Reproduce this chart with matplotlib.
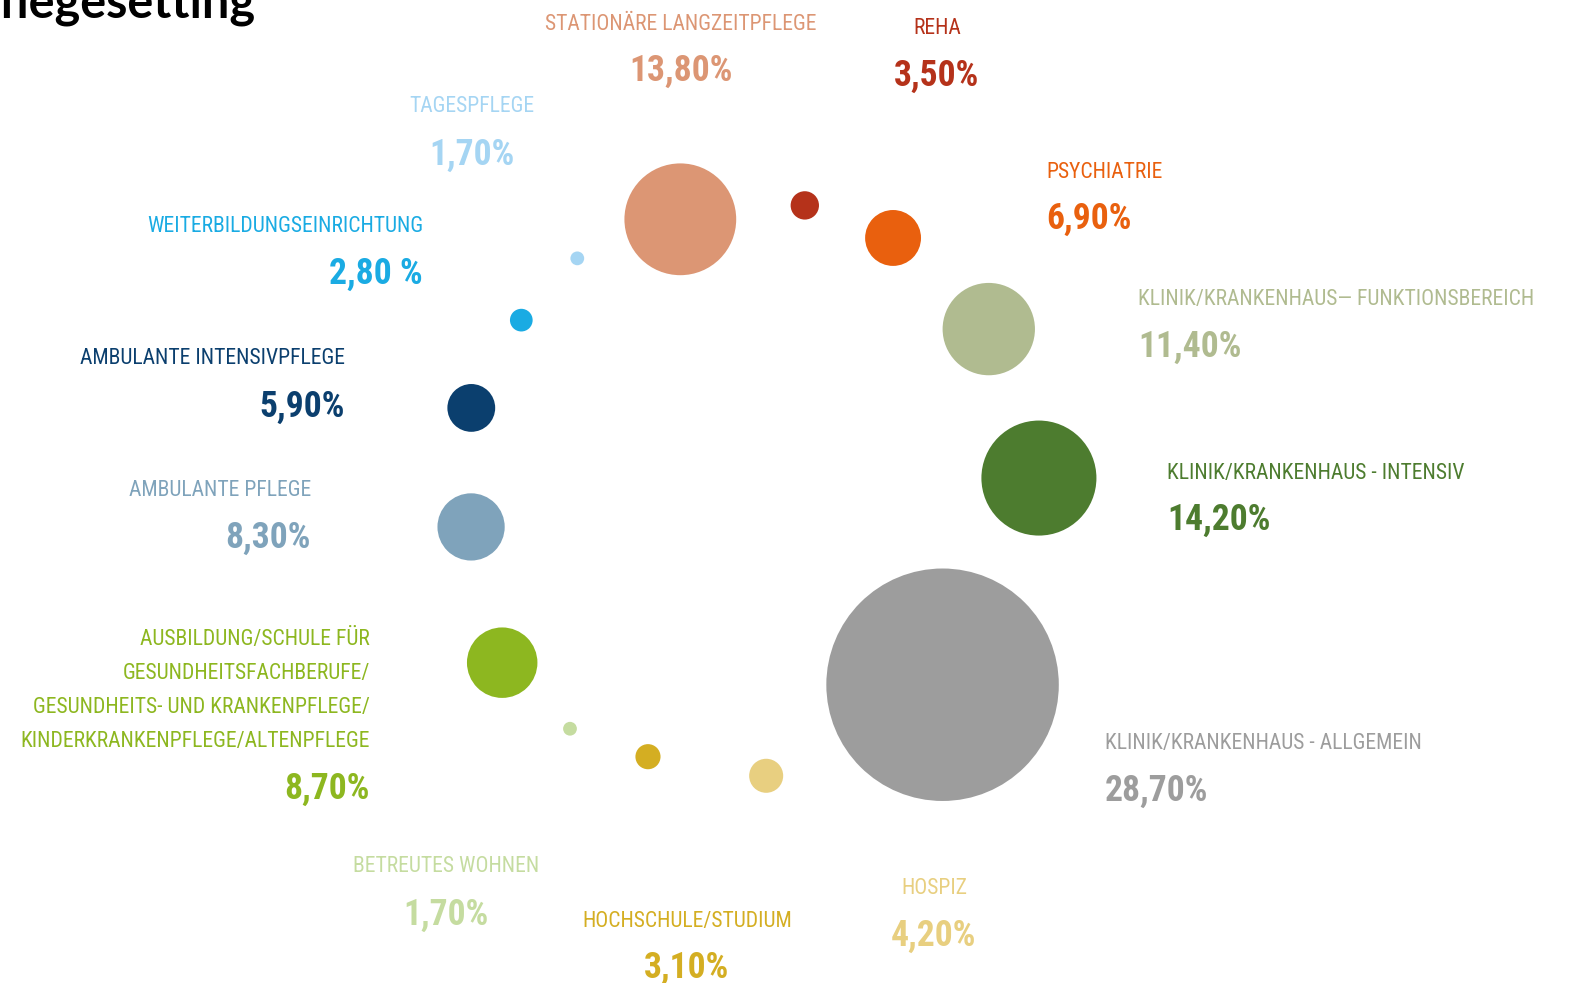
import numpy as np
import matplotlib.pyplot as plt
from matplotlib import font_manager as fm
from matplotlib.patches import Circle

# Anteile je Pflegesetting (%)
labels = [
    "STATIONÄRE LANGZEITPFLEGE",
    "REHA",
    "PSYCHIATRIE",
    "KLINIK/KRANKENHAUS— FUNKTIONSBEREICH",
    "KLINIK/KRANKENHAUS - INTENSIV",
    "KLINIK/KRANKENHAUS - ALLGEMEIN",
    "HOSPIZ",
    "HOCHSCHULE/STUDIUM",
    "BETREUTES WOHNEN",
    "AUSBILDUNG/SCHULE FÜR\nGESUNDHEITSFACHBERUFE/\nGESUNDHEITS- UND KRANKENPFLEGE/\nKINDERKRANKENPFLEGE/ALTENPFLEGE",
    "AMBULANTE PFLEGE",
    "AMBULANTE INTENSIVPFLEGE",
    "WEITERBILDUNGSEINRICHTUNG",
    "TAGESPFLEGE",
]
values = [13.8, 3.5, 6.9, 11.4, 14.2, 28.7, 4.2, 3.1, 1.7, 8.7, 8.3, 5.9, 2.8, 1.7]
value_text = ["13,80%", "3,50%", "6,90%", "11,40%", "14,20%", "28,70%", "4,20%",
              "3,10%", "1,70%", "8,70%", "8,30%", "5,90%", "2,80 %", "1,70%"]
colors = ["#dc9674", "#b5321a", "#e9600e", "#b0bb90", "#4d7c2f", "#9d9d9d", "#e8cf80",
          "#d4ae22", "#c5dca0", "#8db720", "#7fa3bb", "#0b3f6e", "#1aabe3", "#a5d5f3"]

# layout: bubbles sit on a loose ring (angle in degrees, distance in px)
ring_center = (755, 485)
angles = [105.7, 79.9, 60.8, 33.7, 1.4, -46.8, -87.8, -111.5, -127.2, -144.9,
          188.4, 164.8, 144.8, 128.1]
dists = [276, 284, 283, 281, 284, 274, 291, 292, 306, 309, 287, 294, 286, 288]
px_per_pct = 4.05

# label anchors: (x, y of first line, y of value, alignment)
label_pos = [
    (681, 21, 68, "center"),
    (937, 25, 73, "center"),
    (1046, 169, 216, "left"),
    (1138, 297, 344, "left"),
    (1167, 470, 517, "left"),
    (1105, 741, 788, "left"),
    (934, 886, 933, "center"),
    (687, 918, 965, "center"),
    (446, 864, 912, "center"),
    (370, 636, 786, "right"),
    (311, 487, 535, "right"),
    (345, 356, 404, "right"),
    (423, 224, 271, "right"),
    (472, 104, 152, "center"),
]
line_step = 34.3
y_nudge = 3  # va="center" sits a little high for caps

# pick a narrow face if there is one
names = {f.name for f in fm.fontManager.ttflist}
stretch = "normal"
family = "DejaVu Sans"
for cand in ["Roboto Condensed", "Liberation Sans Narrow", "Open Sans Condensed"]:
    if cand in names:
        family = cand
        break
else:
    if any("Condensed" in f.fname and f.name == "DejaVu Sans" for f in fm.fontManager.ttflist):
        stretch = "condensed"

fig = plt.figure(figsize=(15.7, 9.83), dpi=100)
ax = fig.add_axes([0, 0, 1, 1])
ax.set_xlim(0, 1570)
ax.set_ylim(983, 0)
ax.set_aspect("equal")
ax.axis("off")

# size the type so that widths match the original
renderer = fig.canvas.get_renderer()
def fit_size(s, target_px, **kw):
    t = ax.text(0, 0, s, fontsize=10, family=family, fontstretch=stretch, **kw)
    w = t.get_window_extent(renderer).width
    t.remove()
    return 10 * target_px / w

lab_size = fit_size("STATIONÄRE LANGZEITPFLEGE", 272)
num_size = fit_size("13,80%", 104, fontweight="bold")

for val, col, ang, d in zip(values, colors, angles, dists):
    a = np.deg2rad(ang)
    cx = ring_center[0] + d * np.cos(a)
    cy = ring_center[1] - d * np.sin(a)
    ax.add_patch(Circle((cx, cy), val * px_per_pct, color=col, lw=0))

for lab, vt, col, (x, y, yv, ha) in zip(labels, value_text, colors, label_pos):
    for i, line in enumerate(lab.split("\n")):
        ax.text(x, y + i * line_step + y_nudge, line, color=col, ha=ha, va="center",
                family=family, fontstretch=stretch, fontsize=lab_size)
    ax.text(x, yv + y_nudge, vt, color=col, ha=ha, va="center", family=family,
            fontstretch=stretch, fontsize=num_size, fontweight="bold")

fig.text(255 / 1570, 1 - 18 / 983, "Pflegesetting", ha="right", va="baseline",
         fontsize=35, fontweight="bold", family=["Lato", "DejaVu Sans"])

fig.savefig("out.png", dpi=100)
